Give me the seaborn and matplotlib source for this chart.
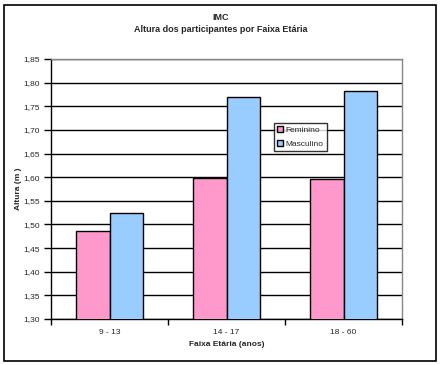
import pandas as pd
import matplotlib
matplotlib.use('Agg')
import matplotlib.pyplot as plt
import seaborn as sns
from matplotlib.ticker import FixedLocator, FuncFormatter
from matplotlib.patches import Rectangle

faixas = ['9 - 13', '14 - 17', '18 - 60']
feminino = [1.487, 1.598, 1.596]
masculino = [1.524, 1.769, 1.782]
series = ['Feminino', 'Masculino']
cores = ['#FF99CC', '#99CCFF']

sns.set_style('white')
plt.rcParams['font.family'] = ['Liberation Sans', 'DejaVu Sans']

df = pd.DataFrame({
    'faixa': faixas * 2,
    'altura': feminino + masculino,
    'sexo': [series[0]] * 3 + [series[1]] * 3,
})

fig = plt.figure(figsize=(4.42, 3.65), dpi=100)
ax = fig.add_axes([51 / 442, 46 / 365, 351 / 442, 260 / 365])

sns.barplot(data=df, x='faixa', y='altura', hue='sexo', order=faixas,
            hue_order=series, palette=cores, width=0.58, edgecolor='black',
            linewidth=1, saturation=1, ax=ax, zorder=3)

ax.set_ylim(1.30, 1.85)
ax.set_xlim(-0.5, 2.5)
ax.set_yticks([1.30 + 0.05 * i for i in range(12)])
ax.yaxis.set_major_formatter(FuncFormatter(lambda v, p: f'{v:.2f}'.replace('.', ',')))
ax.yaxis.grid(True, color='black', linewidth=1, zorder=0)
ax.set_axisbelow(True)
ax.tick_params(axis='y', length=5, width=1, color='black', labelsize=6, pad=3, direction='out', left=True)
ax.tick_params(axis='x', which='major', length=0, labelsize=6, pad=7)
ax.xaxis.set_minor_locator(FixedLocator([-0.5, 0.5, 1.5, 2.5]))
ax.tick_params(axis='x', which='minor', length=4, width=1, color='black', bottom=True, direction='out')

for s in ['left', 'bottom']:
    ax.spines[s].set_color('black')
    ax.spines[s].set_linewidth(1)
for s in ['top', 'right']:
    ax.spines[s].set_color('#888888')
    ax.spines[s].set_linewidth(1)

ax.set_ylabel('Altura (m )', fontsize=6, fontweight='bold', labelpad=1)
ax.set_xlabel('Faixa Etária (anos)', fontsize=6, fontweight='bold', labelpad=4)

leg = ax.legend(loc='upper left', bbox_to_anchor=(223 / 351, (319 - 123) / 260),
                fontsize=6, frameon=True, fancybox=False, edgecolor='black',
                handlelength=0.7, handleheight=0.7, handletextpad=0.3,
                borderpad=0.4, labelspacing=0.7, borderaxespad=0)
leg.get_frame().set_linewidth(1)

fig.text(0.5, 1 - 17 / 365, 'IMC', ha='center', va='center', fontsize=6.5, fontweight='bold')
fig.text(0.5, 1 - 29 / 365, 'Altura dos participantes por Faixa Etária', ha='center',
         va='center', fontsize=6.5, fontweight='bold')

fig.patches.append(Rectangle((4 / 442, 4 / 365), 432 / 442, 356 / 365, transform=fig.transFigure,
                             fill=False, edgecolor='black', linewidth=1.2))

fig.savefig('out.png', dpi=100)
